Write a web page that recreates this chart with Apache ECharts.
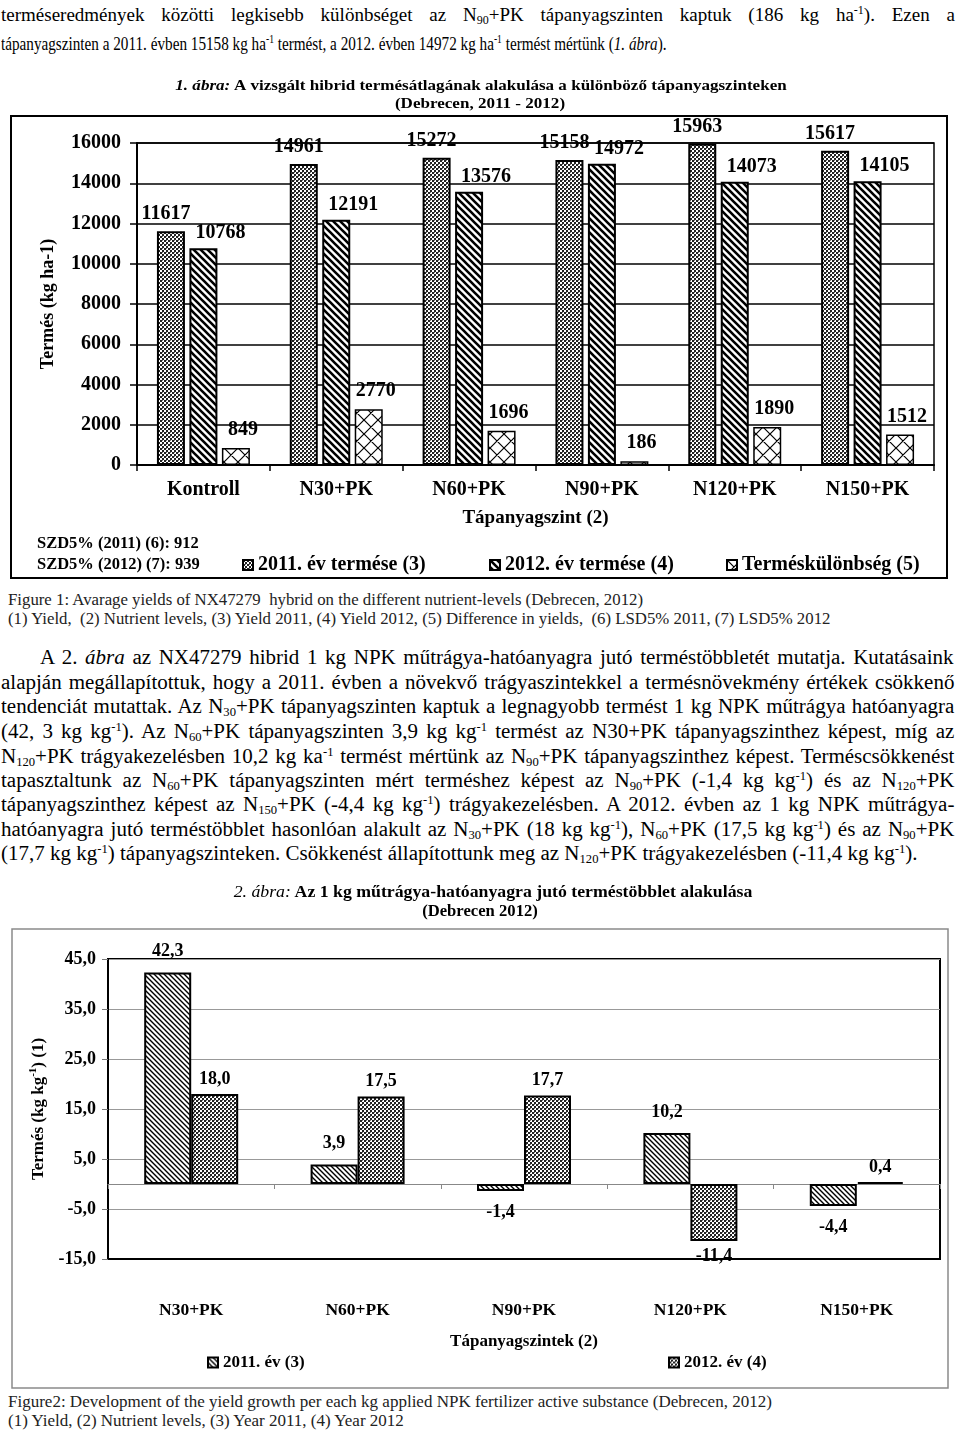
<!DOCTYPE html>
<html><head><meta charset="utf-8">
<script src="https://cdn.jsdelivr.net/npm/echarts@6/dist/echarts.min.js"></script>
<style>
html,body{margin:0;padding:0;background:#fff;}
body{width:960px;height:1436px;position:relative;overflow:hidden;font-family:'Liberation Serif','Times New Roman',serif;color:#000;}
#chart{position:absolute;left:0;top:0;width:960px;height:1436px;}
.ln{position:absolute;white-space:nowrap;font-size:19px;line-height:24px;}
.t2{transform:scaleX(0.8);transform-origin:0 0;}
.p{font-size:20px;transform:scaleX(1.05);transform-origin:0 0;}
.j{text-align:justify;text-align-last:justify;white-space:normal;}
sub,sup{font-size:12px;line-height:0;}
sub{vertical-align:-3px;} sup{vertical-align:7px;}
.cap{position:absolute;left:8px;font-size:16.8px;line-height:20px;white-space:nowrap;color:#222;}
</style></head>
<body>
<div class="ln j" style="left:1px;top:3px;width:954px;">terméseredmények közötti legkisebb különbséget az N<sub>90</sub>+PK tápanyagszinten kaptuk (186 kg ha<sup>-1</sup>). Ezen a</div>
<div class="ln t2" style="left:1px;top:32px;">tápanyagszinten a 2011. évben 15158 kg ha<sup>-1</sup> termést, a 2012. évben 14972 kg ha<sup>-1</sup> termést mértünk (<i>1. ábra</i>).</div>

<div class="cap" style="top:590px;">Figure 1: Avarage yields of NX47279&nbsp; hybrid on the different nutrient-levels (Debrecen, 2012)</div>
<div class="cap" style="top:609px;">(1) Yield,&nbsp; (2) Nutrient levels, (3) Yield 2011, (4) Yield 2012, (5) Difference in yields,&nbsp; (6) LSD5% 2011, (7) LSD5% 2012</div>

<div class="ln p j" style="left:40px;top:645px;width:870px;">A 2. <i>ábra</i> az NX47279 hibrid 1 kg NPK műtrágya-hatóanyagra jutó terméstöbbletét mutatja. Kutatásaink</div>
<div class="ln p j" style="left:1px;top:670px;width:908px;">alapján megállapítottuk, hogy a 2011. évben a növekvő trágyaszintekkel a termésnövekmény értékek csökkenő</div>
<div class="ln p j" style="left:1px;top:694px;width:908px;">tendenciát mutattak. Az N<sub>30</sub>+PK tápanyagszinten kaptuk a legnagyobb termést 1 kg NPK műtrágya hatóanyagra</div>
<div class="ln p j" style="left:1px;top:719px;width:908px;">(42, 3 kg kg<sup>-1</sup>). Az N<sub>60</sub>+PK tápanyagszinten 3,9 kg kg<sup>-1</sup> termést az N30+PK tápanyagszinthez képest, míg az</div>
<div class="ln p j" style="left:1px;top:744px;width:908px;">N<sub>120</sub>+PK trágyakezelésben 10,2 kg ka<sup>-1</sup> termést mértünk az N<sub>90</sub>+PK tápanyagszinthez képest. Terméscsökkenést</div>
<div class="ln p j" style="left:1px;top:768px;width:908px;">tapasztaltunk az N<sub>60</sub>+PK tápanyagszinten mért terméshez képest az N<sub>90</sub>+PK (-1,4 kg kg<sup>-1</sup>) és az N<sub>120</sub>+PK</div>
<div class="ln p j" style="left:1px;top:792px;width:908px;">tápanyagszinthez képest az N<sub>150</sub>+PK (-4,4 kg kg<sup>-1</sup>) trágyakezelésben. A 2012. évben az 1 kg NPK műtrágya-</div>
<div class="ln p j" style="left:1px;top:817px;width:908px;">hatóanyagra jutó terméstöbblet hasonlóan alakult az N<sub>30</sub>+PK (18 kg kg<sup>-1</sup>), N<sub>60</sub>+PK (17,5 kg kg<sup>-1</sup>) és az N<sub>90</sub>+PK</div>
<div class="ln p" style="left:1px;top:841px;">(17,7 kg kg<sup>-1</sup>) tápanyagszinteken. Csökkenést állapítottunk meg az N<sub>120</sub>+PK trágyakezelésben (-11,4 kg kg<sup>-1</sup>).</div>

<div class="cap" style="top:1392px;font-size:17px;">Figure2: Development of the yield growth per each kg applied NPK fertilizer active substance (Debrecen, 2012)</div>
<div class="cap" style="top:1411px;font-size:17px;">(1) Yield, (2) Nutrient levels, (3) Year 2011, (4) Year 2012</div>

<div id="chart"></div>
<script>
// ---- data ----
const cats1 = ['Kontroll', 'N30+PK', 'N60+PK', 'N90+PK', 'N120+PK', 'N150+PK'];
const yield2011 = [11617, 14961, 15272, 15158, 15963, 15617];
const yield2012 = [10768, 12191, 13576, 14972, 14073, 14105];
const yieldDiff = [849, 2770, 1696, 186, 1890, 1512];
const yTicks1 = { min: 0, max: 16000, step: 2000 };

const cats2 = ['N30+PK', 'N60+PK', 'N90+PK', 'N120+PK', 'N150+PK'];
const growth2011 = [42.3, 3.9, -1.4, 10.2, -4.4];
const growth2012 = [18.0, 17.5, 17.7, -11.4, 0.4];
const yTicks2 = { min: -15, max: 45, step: 10 };

// ---- patterns ----
function makeCanvas(s) { const c = document.createElement('canvas'); c.width = s; c.height = s; const g = c.getContext('2d'); g.fillStyle = '#fff'; g.fillRect(0, 0, s, s); return [c, g]; }
function checker() { const [c, g] = makeCanvas(4); g.fillStyle = '#222'; g.fillRect(0, 0, 2, 2); g.fillRect(2, 2, 2, 2); g.fillStyle = '#777'; g.fillRect(2, 0, 1, 1); return c; }
function stripes(s, w) { const [c, g] = makeCanvas(s); g.strokeStyle = '#000'; g.lineWidth = w; g.beginPath(); for (const k of [-s, 0, s]) { g.moveTo(k - 1, -1); g.lineTo(k + s + 1, s + 1); } g.stroke(); return c; }
function cross(s) { const [c, g] = makeCanvas(s); g.strokeStyle = '#000'; g.lineWidth = 1.2; g.beginPath(); for (const k of [-s, 0, s]) { g.moveTo(k - 1, -1); g.lineTo(k + s + 1, s + 1); g.moveTo(k + s + 1, -1); g.lineTo(k - 1, s + 1); } g.stroke(); return c; }
const P = (cv) => ({ image: cv, repeat: 'repeat' });

const F = "'Liberation Serif', 'Times New Roman', serif";
const B = { fontFamily: F, fontWeight: 'bold', color: '#000' };
const fmt2 = v => Number(v).toFixed(1).replace('.', ',');
const fmt1 = v => String(v);

const chart = echarts.init(document.getElementById('chart'), null, { renderer: 'canvas' });

const lbl1 = (dx, d) => ({ show: true, position: 'top', distance: d, offset: [dx, 0], ...B, fontSize: 20 });
const dataSigned = arr => arr.map(v => ({ value: v, label: { position: v < 0 ? 'bottom' : 'top' } }));

const option = {
  animation: false,
  backgroundColor: 'transparent',
  graphic: [
    { type: 'rect', silent: true, shape: { x: 11, y: 116, width: 936, height: 462 }, style: { fill: 'none', stroke: '#000', lineWidth: 2 } },
    { type: 'rect', silent: true, shape: { x: 12, y: 929, width: 936, height: 459 }, style: { fill: 'none', stroke: '#8a8a8a', lineWidth: 1.5 } },
    { type: 'text', silent: true, x: 481, y: 86, scaleX: 1.1, style: { x: 0, y: 0, align: 'center', verticalAlign: 'middle', text: '{i|1. ábra:} {b|A vizsgált hibrid termésátlagának alakulása a különböző tápanyagszinteken}',
      rich: { i: { fontFamily: F, fontWeight: 'bold', fontStyle: 'italic', fontSize: 15.5, fill: '#000' }, b: { fontFamily: F, fontWeight: 'bold', fontSize: 15.5, fill: '#000' } } } },
    { type: 'text', silent: true, x: 480, y: 104, scaleX: 1.1, style: { x: 0, y: 0, align: 'center', verticalAlign: 'middle', text: '(Debrecen, 2011 - 2012)', fontFamily: F, fontWeight: 'bold', fontSize: 15.5, fill: '#000' } },
    { type: 'text', silent: true, style: { x: 37, y: 544, verticalAlign: 'middle', text: 'SZD5% (2011) (6): 912', fontFamily: F, fontWeight: 'bold', fontSize: 16.5, fill: '#000' } },
    { type: 'text', silent: true, style: { x: 37, y: 565, verticalAlign: 'middle', text: 'SZD5% (2012) (7): 939', fontFamily: F, fontWeight: 'bold', fontSize: 16.5, fill: '#000' } },
    { type: 'text', silent: true, x: 493, y: 893, scaleX: 1.11, style: { x: 0, y: 0, align: 'center', verticalAlign: 'middle', text: '{i|2. ábra:} {b|Az 1 kg műtrágya-hatóanyagra jutó terméstöbblet alakulása}',
      rich: { i: { fontFamily: F, fontStyle: 'italic', fontSize: 16, fill: '#000' }, b: { fontFamily: F, fontWeight: 'bold', fontSize: 16, fill: '#000' } } } },
    { type: 'text', silent: true, x: 480, y: 912, scaleX: 1.04, style: { x: 0, y: 0, align: 'center', verticalAlign: 'middle', text: '(Debrecen 2012)', fontFamily: F, fontWeight: 'bold', fontSize: 16, fill: '#000' } }
  ],
  legend: [
    { data: ['2011. év termése (3)'], left: 242, top: 555, padding: 0, itemWidth: 10, itemHeight: 10, icon: 'rect', textStyle: { ...B, fontSize: 20 } },
    { data: ['2012. év termése (4)'], left: 489, top: 555, padding: 0, itemWidth: 10, itemHeight: 10, icon: 'rect', textStyle: { ...B, fontSize: 20 } },
    { data: ['Terméskülönbség (5)'], left: 726, top: 555, padding: 0, itemWidth: 10, itemHeight: 10, icon: 'rect', textStyle: { ...B, fontSize: 20 } },
    { data: ['2011. év (3)'], left: 207, top: 1354, padding: 0, itemWidth: 10, itemHeight: 10, icon: 'rect', textStyle: { ...B, fontSize: 17 } },
    { data: ['2012. év (4)'], left: 668, top: 1354, padding: 0, itemWidth: 10, itemHeight: 10, icon: 'rect', textStyle: { ...B, fontSize: 17 } }
  ],
  grid: [
    { left: 137, top: 143, width: 797, height: 322, show: true, borderColor: '#000', borderWidth: 1.5, backgroundColor: 'transparent' },
    { left: 108, top: 959, width: 832, height: 300, show: true, borderColor: '#000', borderWidth: 2, backgroundColor: 'transparent' }
  ],
  xAxis: [
    { gridIndex: 0, type: 'category', data: cats1, position: 'bottom',
      axisLine: { show: true, lineStyle: { color: '#000', width: 2 } },
      axisTick: { show: true, length: 6, lineStyle: { color: '#000', width: 1.5 } },
      axisLabel: { margin: 15, ...B, fontSize: 20 },
      splitLine: { show: false },
      name: 'Tápanyagszint (2)', nameLocation: 'middle', nameGap: 44, nameTextStyle: { ...B, fontSize: 19 } },
    { gridIndex: 1, type: 'category', data: cats2, position: 'bottom',
      axisLine: { show: true, onZero: false, lineStyle: { color: '#000', width: 2 } },
      axisTick: { show: false },
      axisLabel: { margin: 42, ...B, fontSize: 17.5 },
      splitLine: { show: false },
      name: 'Tápanyagszintek (2)', nameLocation: 'middle', nameGap: 74, nameTextStyle: { ...B, fontSize: 17 } },
    { gridIndex: 1, type: 'category', data: cats2, position: 'bottom',
      axisLine: { show: true, onZero: true, lineStyle: { color: '#888', width: 1 } },
      axisTick: { show: true, length: 5, lineStyle: { color: '#888', width: 1 } },
      axisLabel: { show: false }, splitLine: { show: false } }
  ],
  yAxis: [
    { gridIndex: 0, type: 'value', min: yTicks1.min, max: yTicks1.max, interval: yTicks1.step,
      axisLine: { show: true, lineStyle: { color: '#000', width: 2 } },
      axisTick: { show: true, length: 7, lineStyle: { color: '#000', width: 1.5 } },
      axisLabel: { margin: 16, ...B, fontSize: 20, formatter: fmt1 },
      splitLine: { show: true, lineStyle: { color: '#000', width: 1.5 } },
      name: 'Termés (kg ha-1)', nameLocation: 'middle', nameGap: 80, nameRotate: 90, nameTextStyle: { ...B, fontSize: 18 } },
    { gridIndex: 1, type: 'value', min: yTicks2.min, max: yTicks2.max, interval: yTicks2.step,
      axisLine: { show: true, onZero: false, lineStyle: { color: '#000', width: 2 } },
      axisTick: { show: true, length: 6, lineStyle: { color: '#777', width: 1 } },
      axisLabel: { margin: 12, ...B, fontSize: 18, formatter: fmt2 },
      splitLine: { show: true, lineStyle: { color: '#999', width: 1 } },
      name: '{a|Termés (kg kg}{s|-1}{a|) (1)}', nameLocation: 'middle', nameGap: 60, nameRotate: 90,
      nameTextStyle: { ...B, fontSize: 17, rich: { a: { ...B, fontSize: 17, lineHeight: 20, verticalAlign: 'bottom' }, s: { ...B, fontSize: 11, lineHeight: 11, verticalAlign: 'top' } } } }
  ],
  series: [
    { name: '2011. év termése (3)', type: 'bar', xAxisIndex: 0, yAxisIndex: 0, data: yield2011, barWidth: 28, barGap: '16%',
      itemStyle: { color: P(checker()), borderColor: '#000', borderWidth: 2 }, label: lbl1(-5, 7) },
    { name: '2012. év termése (4)', type: 'bar', xAxisIndex: 0, yAxisIndex: 0, data: yield2012, barWidth: 28, barGap: '16%',
      itemStyle: { color: P(stripes(7, 2.6)), borderColor: '#000', borderWidth: 2 }, label: lbl1(17, 5) },
    { name: 'Terméskülönbség (5)', type: 'bar', xAxisIndex: 0, yAxisIndex: 0, data: yieldDiff, barWidth: 28, barGap: '16%',
      itemStyle: { color: P(cross(14)), borderColor: '#000', borderWidth: 1.5 }, label: lbl1(7, 8) },
    { name: '2011. év (3)', type: 'bar', xAxisIndex: 1, yAxisIndex: 1, data: dataSigned(growth2011), barWidth: 47, barGap: '0%',
      itemStyle: { color: P(stripes(5, 1.4)), borderColor: '#000', borderWidth: 2 },
      label: { show: true, distance: 12, ...B, fontSize: 18, formatter: p => fmt2(p.value) } },
    { name: '2012. év (4)', type: 'bar', xAxisIndex: 1, yAxisIndex: 1, data: dataSigned(growth2012), barWidth: 47, barGap: '0%',
      itemStyle: { color: P(checker()), borderColor: '#000', borderWidth: 2 },
      label: { show: true, distance: 6, ...B, fontSize: 18, formatter: p => fmt2(p.value) } }
  ]
};
chart.setOption(option);
</script>
</body></html>
